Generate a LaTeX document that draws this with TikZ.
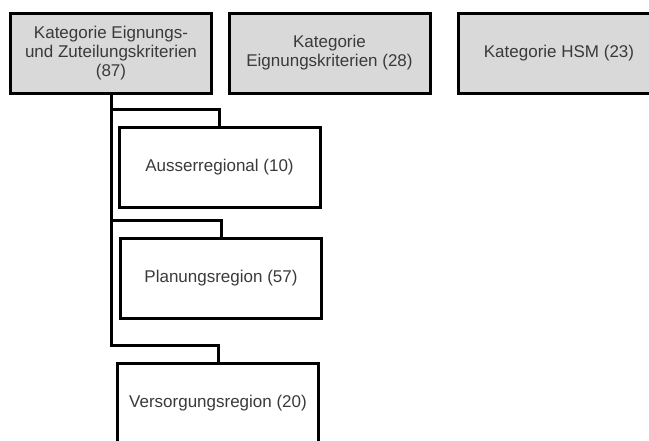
\documentclass[tikz,border=0pt]{standalone}
\usepackage{fontspec}
\setmainfont{Liberation Sans}
\definecolor{boxgray}{HTML}{D9D9D9}
\definecolor{txtgray}{HTML}{3A3A3A}
\begin{document}
\begin{tikzpicture}[x=1pt,y=-1pt,
    kat/.style={draw, line width=3pt, fill=boxgray, minimum width=201pt,
      minimum height=80pt, align=center, text=txtgray,
      font=\fontsize{17}{19}\selectfont},
    sub/.style={kat, fill=white},
    link/.style={line width=3pt}]
    \useasboundingbox (0,0) rectangle (649,440);
    \clip (0,0) rectangle (649,440);
    \node[kat] (K1) at (111,53) {Kategorie Eignungs-\\und Zuteilungskriterien\\(87)};
    \node[kat] (K2) at (329.5,53) {Kategorie\\Eignungskriterien (28)};
    \node[kat] (K3) at (559,53) {Kategorie HSM (23)};
    \node[sub] (A) at (219.5,167) {Ausserregional (10)};
    \node[sub] (P) at (221,278) {Planungsregion (57)};
    \node[sub] (V) at (218,403) {Versorgungsregion (20)};
    \foreach \n in {A,P,V}
      \draw[link] (K1.south) |- ([yshift=16.5pt]\n.north) -- (\n.north);
\end{tikzpicture}
\end{document}
